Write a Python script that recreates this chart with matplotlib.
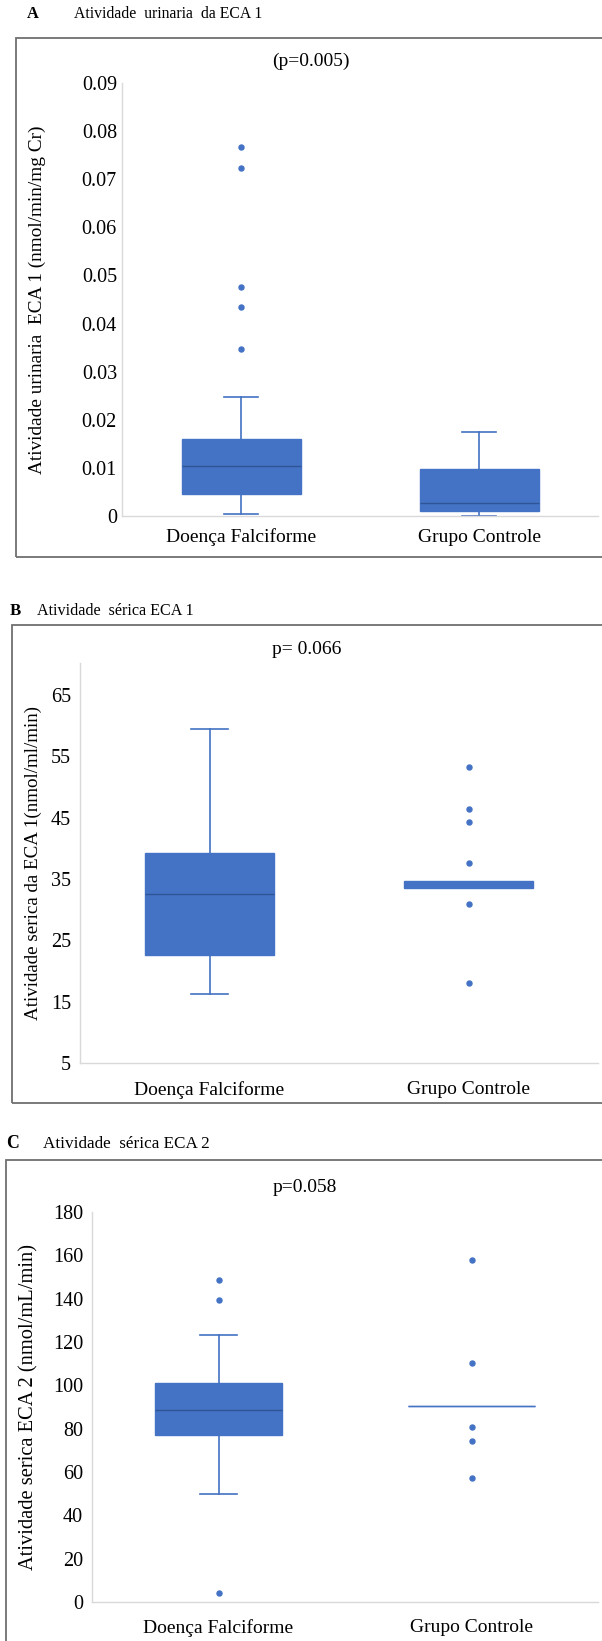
import matplotlib
matplotlib.use('Agg')
import matplotlib.pyplot as plt
from matplotlib.patches import Rectangle

W, H = 602, 1641
plt.rcParams['font.family'] = ['Liberation Serif', 'DejaVu Serif']

categories = ['Doença Falciforme', 'Grupo Controle']

# Panel A - urinary ACE1 activity
a_title = 'Atividade  urinaria  da ECA 1'
a_ptext = '(p=0.005)'
a_ylabel = 'Atividade urinaria  ECA 1 (nmol/min/mg Cr)'
a_q1 = [0.0046, 0.00105]
a_med = [0.0104, 0.0028]
a_q3 = [0.0161, 0.0097]
a_whislo = [0.0005, 0.0001]
a_whishi = [0.0248, 0.0175]
a_fliers = [[0.0768, 0.0723, 0.0476, 0.0435, 0.0347], []]
a_yticks = [0, 0.01, 0.02, 0.03, 0.04, 0.05, 0.06, 0.07, 0.08, 0.09]
a_yticklabels = ['0', '0.01', '0.02', '0.03', '0.04', '0.05', '0.06', '0.07', '0.08', '0.09']

# Panel B - serum ACE1 activity
b_title = 'Atividade  sérica ECA 1'
b_ptext = 'p= 0.066'
b_ylabel = 'Atividade serica da ECA 1(nmol/ml/min)'
b_q1 = [22.6, 33.5]
b_med = [32.5, 34.0]
b_q3 = [39.2, 34.6]
b_whislo = [16.2, 33.5]
b_whishi = [59.5, 34.6]
b_fliers = [[], [53.3, 46.4, 44.3, 37.6, 30.9, 18.1]]
b_yticks = [5, 15, 25, 35, 45, 55, 65]
b_yticklabels = ['5', '15', '25', '35', '45', '55', '65']

# Panel C - serum ACE2 activity
c_title = 'Atividade  sérica ECA 2'
c_ptext = 'p=0.058'
c_ylabel = 'Atividade serica ECA 2 (nmol/mL/min)'
c_q1 = [77.0, 90.4]
c_med = [88.5, 90.4]
c_q3 = [100.9, 90.4]
c_whislo = [50.0, 90.4]
c_whishi = [123.4, 90.4]
c_fliers = [[148.5, 139.6, 4.2], [157.9, 110.1, 80.7, 74.3, 57.2]]
c_yticks = [0, 20, 40, 60, 80, 100, 120, 140, 160, 180]
c_yticklabels = ['0', '20', '40', '60', '80', '100', '120', '140', '160', '180']

BLUE = '#4472C4'
DARK = '#2F5597'

fig = plt.figure(figsize=(W / 100, H / 100), dpi=100)


def fx(x):
    return x / W


def fy(y):
    return 1 - y / H


def make_panel(letter, title, title_size, ptext, ylabel, ylabel_size,
               q1, med, q3, wlo, whi, fliers, yticks, yticklabels, ylim,
               frame, axbox, letter_pos, title_x, p_pos, ylab_x,
               ytick_pad, xtick_pad):
    fl, ft, fb = frame
    fig.patches.append(Rectangle((fx(fl), fy(fb)), fx(W + 10 - fl), (fb - ft) / H,
                                 transform=fig.transFigure, fill=False,
                                 edgecolor='#707070', linewidth=1.3, zorder=0))
    fig.text(fx(letter_pos[0]), fy(letter_pos[1]), letter, fontsize=title_size + 0.5,
             fontweight='bold', ha='center', va='center')
    fig.text(fx(title_x), fy(letter_pos[1]), title, fontsize=title_size,
             ha='left', va='center')
    fig.text(fx(p_pos[0]), fy(p_pos[1]), ptext, fontsize=14, ha='center', va='center')

    l, t, r, b = axbox
    ax = fig.add_axes([fx(l), fy(b), (r - l) / W, (b - t) / H])
    stats = []
    for i, cat in enumerate(categories):
        stats.append(dict(q1=q1[i], med=med[i], q3=q3[i], whislo=wlo[i],
                          whishi=whi[i], fliers=fliers[i], label=cat))
    res = ax.bxp(stats, positions=[0, 1], widths=0.5, patch_artist=True,
                 showfliers=True, capwidths=0.145,
                 boxprops=dict(facecolor=BLUE, edgecolor=BLUE, linewidth=1.0),
                 medianprops=dict(color=DARK, linewidth=1.0),
                 whiskerprops=dict(color=BLUE, linewidth=1.2),
                 capprops=dict(color=BLUE, linewidth=1.2),
                 flierprops=dict(marker='o', markersize=3.6, markerfacecolor=BLUE,
                                 markeredgecolor=BLUE, linestyle='none'))
    # collapsed boxes: draw as a plain bar, no caps / dark median
    for i in range(len(categories)):
        if whi[i] == q3[i] and wlo[i] == q1[i]:
            res['medians'][i].set_color(BLUE)
            for c in res['caps'][2 * i:2 * i + 2]:
                c.set_visible(False)
            for w in res['whiskers'][2 * i:2 * i + 2]:
                w.set_visible(False)
    ax.set_xlim(-0.5, 1.5)
    ax.set_ylim(*ylim)
    ax.set_yticks(yticks)
    ax.set_yticklabels(yticklabels)
    ax.set_xticks([0, 1])
    ax.set_xticklabels(categories)
    for s in ['top', 'right']:
        ax.spines[s].set_visible(False)
    for s in ['left', 'bottom']:
        ax.spines[s].set_color('#D9D9D9')
        ax.spines[s].set_linewidth(1.0)
    ax.tick_params(axis='y', length=0, labelsize=14.5, pad=ytick_pad)
    ax.tick_params(axis='x', length=0, labelsize=14, pad=xtick_pad)
    ax.set_facecolor('none')
    fig.text(fx(ylab_x), fy((t + b) / 2), ylabel, fontsize=ylabel_size,
             rotation=90, ha='center', va='center')
    return ax


make_panel('A', a_title, 11.3, a_ptext, a_ylabel, 13.9,
           a_q1, a_med, a_q3, a_whislo, a_whishi, a_fliers,
           a_yticks, a_yticklabels, (0, 0.09),
           frame=(16, 38, 557), axbox=(122, 83, 598, 516),
           letter_pos=(33, 14), title_x=74, p_pos=(311, 61), ylab_x=37,
           ytick_pad=3.6, xtick_pad=9)

make_panel('B', b_title, 11.6, b_ptext, b_ylabel, 13.7,
           b_q1, b_med, b_q3, b_whislo, b_whishi, b_fliers,
           b_yticks, b_yticklabels, (5, 70.2),
           frame=(12, 625, 1103), axbox=(80, 663, 598, 1063),
           letter_pos=(15, 611), title_x=37, p_pos=(307, 650), ylab_x=33,
           ytick_pad=6.5, xtick_pad=13)

make_panel('C', c_title, 12.3, c_ptext, c_ylabel, 14.8,
           c_q1, c_med, c_q3, c_whislo, c_whishi, c_fliers,
           c_yticks, c_yticklabels, (0, 180),
           frame=(6, 1160, 1700), axbox=(92, 1212, 598, 1602),
           letter_pos=(13, 1144), title_x=43, p_pos=(305, 1187), ylab_x=29,
           ytick_pad=6.5, xtick_pad=12.5)

fig.savefig('out.png', dpi=100)
